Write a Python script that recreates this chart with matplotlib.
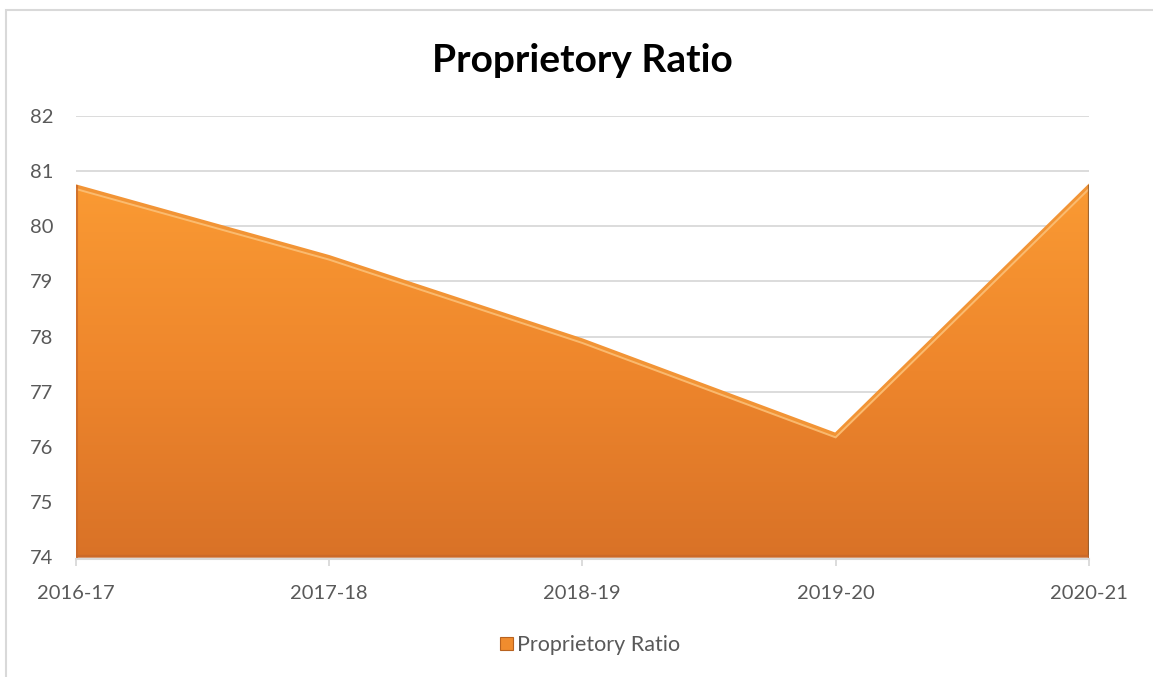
import numpy as np
import matplotlib
matplotlib.use("Agg")
import matplotlib.pyplot as plt
from matplotlib.patches import Rectangle, Patch
from matplotlib.colors import LinearSegmentedColormap

plt.rcParams['font.family'] = ['Lato', 'DejaVu Sans']

# Data
years = ["2016-17", "2017-18", "2018-19", "2019-20", "2020-21"]
ratio = [80.72, 79.44, 77.93, 76.22, 80.72]
series_name = "Proprietory Ratio"
y_ticks = [74, 75, 76, 77, 78, 79, 80, 81, 82]

W, H = 1153, 677
fig = plt.figure(figsize=(W / 100, H / 100), dpi=100)
ax = fig.add_axes([75.5 / W, 1 - 557.5 / H, (1089 - 75.5) / W, (557.5 - 115.7) / H])

x = np.arange(len(years))
ymin, ymax = y_ticks[0], y_ticks[-1]

# gridlines behind the area
for yv in y_ticks[1:]:
    ax.axhline(yv, color="#D9D9D9", lw=1.3, zorder=0)

# gradient-filled area
poly = ax.fill_between(x, ymin, ratio, facecolor="none", edgecolor="none", zorder=2)
cmap = LinearSegmentedColormap.from_list(
    "orange_grad", ["#D97227", "#EE862C", "#FA9A33"])
top = max(ratio)
grad = np.linspace(0, 1, 256).reshape(-1, 1)
im = ax.imshow(grad, extent=[x[0], x[-1], ymin, top], origin="lower",
               aspect="auto", cmap=cmap, zorder=2, interpolation="bicubic")
clip = poly.get_paths()[0]
im.set_clip_path(clip, transform=ax.transData)

# bevel: edges of the area
ax.plot(x, ratio, color="#F29435", lw=3.0, zorder=3, solid_joinstyle="miter")
off = 0.045
ax.plot(x, np.array(ratio) - off, color="#FCC27A", lw=1.4, alpha=0.85, zorder=3)
ax.plot([x[0], x[0]], [ymin, ratio[0]], color="#C9692A", lw=2.2, alpha=0.8, zorder=3)
ax.plot([x[-1], x[-1]], [ymin, ratio[-1]], color="#8A5A30", lw=1.6, alpha=0.8, zorder=3)
ax.plot([x[0], x[-1]], [ymin + 0.03, ymin + 0.03], color="#C7682A", lw=2.5, alpha=0.7, zorder=3)

ax.set_xlim(x[0], x[-1])
ax.set_ylim(ymin, ymax)
ax.set_xticks(x)
ax.set_xticklabels(years)
ax.set_yticks(y_ticks)

for s in ["top", "right", "left"]:
    ax.spines[s].set_visible(False)
ax.spines["bottom"].set_color("#D9D9D9")
ax.spines["bottom"].set_linewidth(1.5)
ax.spines["bottom"].set_zorder(4)
ax.spines["bottom"].set_position(("outward", 1))
ax.tick_params(axis="x", length=5, width=1.3, color="#D9D9D9", pad=14,
               labelsize=14.5, labelcolor="#595959")
ax.tick_params(axis="y", length=0, pad=16, labelsize=14.5, labelcolor="#595959")
ax.set_facecolor("none")

fig.text(582 / W, 1 - 60 / H, "Proprietory Ratio", ha="center", va="center",
         fontsize=28, fontweight="bold", color="black")

# chart frame
fig.patches.append(Rectangle((6 / W, -0.1), 1.2, 1 - 10 / H + 0.1, transform=fig.transFigure,
                             fill=False, edgecolor="#D9D9D9", lw=1.5, zorder=0))

handle = Patch(facecolor="#F08C2E", edgecolor="#B8621F", lw=0.8)
fig.legend([handle], [series_name], loc="center", bbox_to_anchor=(590 / W, 1 - 645 / H),
           frameon=False, fontsize=15.5, handlelength=0.6, handleheight=0.6,
           handletextpad=0.15, labelcolor="#595959")

fig.savefig("out.png", dpi=100)
